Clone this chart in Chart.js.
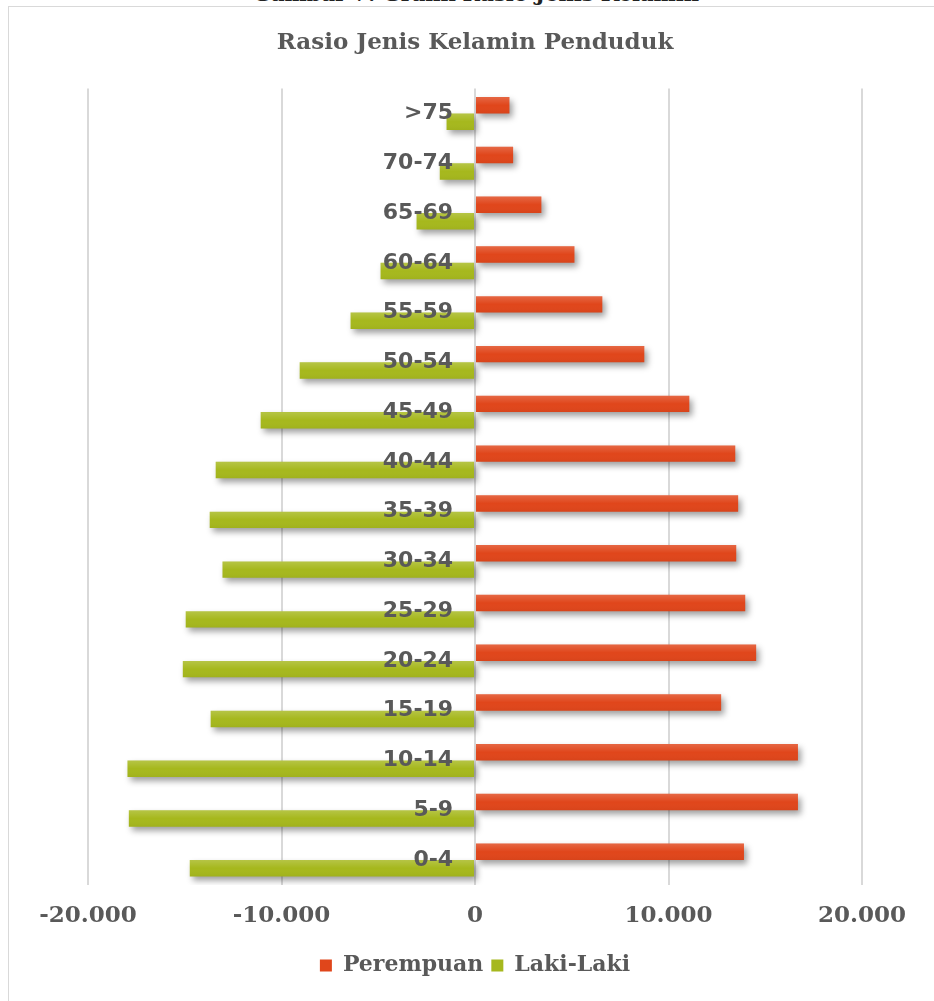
<!DOCTYPE html>
<html>
<head>
<meta charset="utf-8">
<script src="https://cdn.jsdelivr.net/npm/chart.js@4/dist/chart.umd.min.js"></script>
<style>
  html, body { margin: 0; padding: 0; background: #fff; overflow: hidden; }
  body { width: 934px; height: 1001px; position: relative; }
  #caption {
    position: absolute; left: 0; width: 952px; top: -19px;
    text-align: center; font: bold 21px "DejaVu Serif", serif; color: #222;
    white-space: nowrap;
  }
  #frame {
    position: absolute; left: 8px; top: 6px; width: 1000px; height: 1100px;
    border: 1.5px solid #d9d9d9; background: #fff;
  }
  #wrap { position: absolute; left: 0; top: 0; width: 934px; height: 1001px; }
</style>
</head>
<body>
<div id="caption">Gambar 7. Grafik Rasio Jenis Kelamin</div>
<div id="frame"></div>
<div id="wrap"><canvas id="chart"></canvas></div>
<script>
// Age groups, oldest first (top of the pyramid)
const categories = ['>75', '70-74', '65-69', '60-64', '55-59', '50-54', '45-49', '40-44',
                    '35-39', '30-34', '25-29', '20-24', '15-19', '10-14', '5-9', '0-4'];
// Female population (drawn to the right)
const perempuan = [1780, 1970, 3430, 5140, 6580, 8750, 11075, 13450,
                   13600, 13500, 13965, 14530, 12720, 16690, 16690, 13900];
// Male population (drawn to the left, stored as negatives)
const lakiLaki = [-1470, -1820, -3020, -4880, -6430, -9060, -11075, -13400,
                  -13710, -13050, -14950, -15100, -13660, -17960, -17890, -14740];
// Value axis ticks
const xTicks = [-20000, -10000, 0, 10000, 20000];
const seriesNames = ['Perempuan', 'Laki-Laki'];

const TEXT = '#595959';
const ORANGE = '#e0461b';
const GREEN = '#a6b81d';

function formatThousands(v) {
  const s = Math.abs(v).toString().replace(/\B(?=(\d{3})+(?!\d))/g, '.');
  return (v < 0 ? '-' : '') + s;
}

// Soft drop shadow under each bar plus a light sheen on the upper half
const barEffects = {
  id: 'barEffects',
  beforeDatasetDraw(chart) {
    const ctx = chart.ctx;
    ctx.save();
    ctx.shadowColor = 'rgba(0,0,0,0.38)';
    ctx.shadowBlur = 6;
    ctx.shadowOffsetX = 3;
    ctx.shadowOffsetY = 4;
  },
  afterDatasetDraw(chart, args) {
    const ctx = chart.ctx;
    ctx.restore();
    const meta = args.meta;
    ctx.save();
    meta.data.forEach(bar => {
      const p = bar.getProps(['x', 'y', 'base', 'height'], true);
      const left = Math.min(p.x, p.base);
      const w = Math.abs(p.x - p.base);
      const top = p.y - p.height / 2;
      const g = ctx.createLinearGradient(0, top, 0, top + p.height);
      g.addColorStop(0, 'rgba(255,255,255,0.18)');
      g.addColorStop(0.5, 'rgba(255,255,255,0)');
      g.addColorStop(1, 'rgba(0,0,0,0.04)');
      ctx.fillStyle = g;
      ctx.fillRect(left, top, w, p.height);
    });
    ctx.restore();
  }
};

const chart = new Chart(document.getElementById('chart'), {
  type: 'bar',
  data: {
    labels: categories,
    datasets: [
      { label: seriesNames[0], data: perempuan, backgroundColor: ORANGE,
        categoryPercentage: 0.66, barPercentage: 1.0 },
      { label: seriesNames[1], data: lakiLaki, backgroundColor: GREEN,
        categoryPercentage: 0.66, barPercentage: 1.0 }
    ]
  },
  plugins: [barEffects],
  options: {
    indexAxis: 'y',
    responsive: true,
    maintainAspectRatio: false,
    devicePixelRatio: 1,
    animation: false,
    layout: { padding: { left: 88, right: 72, top: 0, bottom: 14.5 } },
    scales: {
      x: {
        type: 'linear',
        min: xTicks[0],
        max: xTicks[xTicks.length - 1],
        afterBuildTicks(scale) { scale.ticks = xTicks.map(v => ({ value: v })); },
        grid: { color: '#d9d9d9', lineWidth: 2, drawTicks: false },
        border: { display: false },
        ticks: {
          padding: 17,
          color: TEXT,
          font: { family: '"DejaVu Serif", serif', weight: 'bold', size: 23 },
          callback: v => formatThousands(v)
        }
      },
      y: {
        // category labels sit just left of the zero line
        position: { x: -1130 },
        grid: { display: false, drawTicks: false },
        border: { display: false },
        ticks: {
          z: 1,
          color: TEXT,
          font: { family: '"DejaVu Sans", sans-serif', weight: 'bold', size: 22 }
        }
      }
    },
    plugins: {
      title: {
        display: true,
        text: 'Rasio Jenis Kelamin Penduduk',
        color: TEXT,
        font: { family: '"DejaVu Serif", serif', weight: 'bold', size: 23 },
        padding: { top: 29, bottom: 32 }
      },
      legend: {
        position: 'bottom',
        labels: {
          color: TEXT,
          boxWidth: 12,
          boxHeight: 12,
          padding: 8,
          font: { family: '"DejaVu Serif", serif', weight: 'bold', size: 22 }
        }
      },
      tooltip: { enabled: false }
    }
  }
});
</script>
</body>
</html>
